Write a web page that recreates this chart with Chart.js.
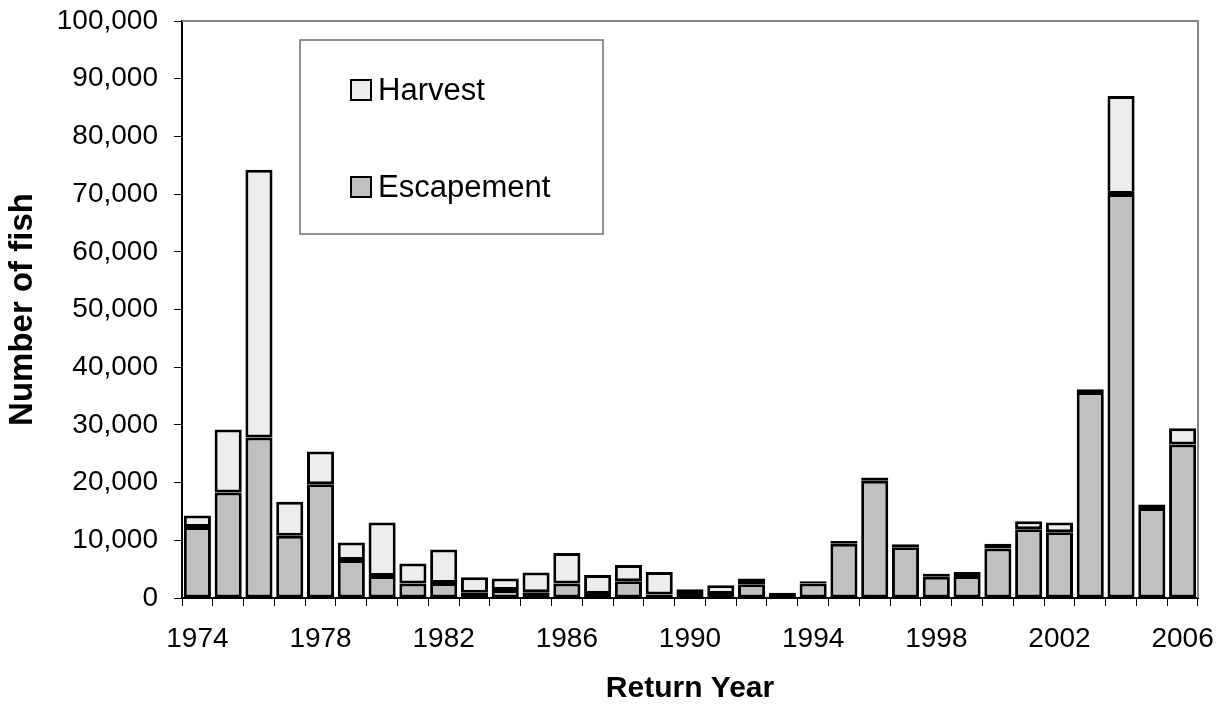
<!DOCTYPE html>
<html>
<head>
<meta charset="utf-8">
<title>Return Year - Number of fish</title>
<script src="https://cdn.jsdelivr.net/npm/chart.js@4.4.1/dist/chart.umd.min.js"></script>
<style>
    html, body { margin: 0; padding: 0; background: #ffffff; }
    #wrap { width: 1225px; height: 709px; position: relative; }
</style>
</head>
<body>
<div id="wrap"><canvas id="fishChart"></canvas></div>
<script>
// Return years (categories)
const years = ['1974', '1975', '1976', '1977', '1978', '1979', '1980', '1981', '1982', '1983',
    '1984', '1985', '1986', '1987', '1988', '1989', '1990', '1991', '1992', '1993',
    '1994', '1995', '1996', '1997', '1998', '1999', '2000', '2001', '2002', '2003',
    '2004', '2005', '2006'];

// Escapement (bottom of each stack)
const escapement = [12300, 18300, 27800, 10800, 19700, 6600, 3800, 2500, 2600, 900,
    1400, 1000, 2500, 700, 2900, 600, 500, 700, 2400, 500,
    2500, 9400, 20300, 8800, 3700, 3800, 8600, 11900, 11400, 35700,
    70000, 15600, 26600];

// Harvest (stacked on top)
const harvest = [2000, 10900, 46400, 5900, 5700, 3000, 9300, 3500, 5800, 2700,
    2000, 3400, 5300, 3300, 2800, 3900, 1000, 1500, 1000, 400,
    400, 500, 600, 500, 500, 700, 800, 1400, 1700, 500,
    17000, 600, 2800];

// Y axis range / step
const yMax = 100000;
const yStep = 10000;

const FONT = "'Liberation Sans', Arial, sans-serif";

const colors = {
    escapement: '#c0c0c0',
    harvest: '#ededed',
    border: '#000000',
    frame: '#868686'
};

// Gray top/right frame around the plot area
const framePlugin = {
    id: 'frame',
    beforeDatasetsDraw(chart) {
        const { ctx, chartArea: a } = chart;
        ctx.save();
        ctx.strokeStyle = colors.frame;
        ctx.lineWidth = 2;
        ctx.beginPath();
        ctx.moveTo(a.left, a.top);
        ctx.lineTo(a.right, a.top);
        ctx.lineTo(a.right, a.bottom);
        ctx.stroke();
        ctx.restore();
    }
};

// Boxed legend inside the plot, Harvest listed first
const boxLegend = {
    id: 'boxLegend',
    afterDatasetsDraw(chart) {
        const { ctx } = chart;
        const box = { x: 300, y: 40, w: 303, h: 194 };
        ctx.save();
        ctx.fillStyle = '#ffffff';
        ctx.fillRect(box.x, box.y, box.w, box.h);
        ctx.strokeStyle = '#6e6e6e';
        ctx.lineWidth = 1.5;
        ctx.strokeRect(box.x, box.y, box.w, box.h);

        const items = chart.data.datasets.slice().reverse();
        const rows = [90, 187];
        ctx.font = '31px ' + FONT;
        ctx.textBaseline = 'middle';
        items.forEach((ds, i) => {
            const cy = rows[i];
            ctx.fillStyle = ds.backgroundColor;
            ctx.fillRect(351, cy - 10, 20, 20);
            ctx.strokeStyle = '#000000';
            ctx.lineWidth = 2;
            ctx.strokeRect(351, cy - 10, 20, 20);
            ctx.fillStyle = '#000000';
            ctx.fillText(ds.label, 378, cy + 1);
        });
        ctx.restore();
    }
};

new Chart(document.getElementById('fishChart'), {
    type: 'bar',
    data: {
        labels: years,
        datasets: [
            {
                label: 'Escapement',
                data: escapement,
                backgroundColor: colors.escapement,
                borderColor: colors.border,
                borderWidth: 3,
                borderSkipped: false,
                barPercentage: 0.88,
                categoryPercentage: 1.0
            },
            {
                label: 'Harvest',
                data: harvest,
                backgroundColor: colors.harvest,
                borderColor: colors.border,
                borderWidth: 3,
                borderSkipped: false,
                barPercentage: 0.88,
                categoryPercentage: 1.0
            }
        ]
    },
    options: {
        responsive: true,
        maintainAspectRatio: false,
        animation: false,
        layout: {
            padding: { left: 0, right: 27, top: 21, bottom: 0 }
        },
        plugins: {
            legend: { display: false },
            tooltip: { enabled: false }
        },
        scales: {
            x: {
                stacked: true,
                grid: {
                    offset: true,
                    drawOnChartArea: false,
                    drawTicks: true,
                    tickLength: 8,
                    color: '#000000',
                    lineWidth: 1
                },
                border: { color: '#000000', width: 2 },
                ticks: {
                    autoSkip: false,
                    maxRotation: 0,
                    padding: 16,
                    color: '#000000',
                    font: { family: FONT, size: 28 },
                    callback: (val, i) => (i % 4 === 0 ? years[i] : '')
                },
                title: {
                    display: true,
                    text: 'Return Year',
                    color: '#000000',
                    font: { family: FONT, size: 30, weight: 'bold' },
                    padding: { top: 0, bottom: 2 }
                },
                afterFit(scale) {
                    scale.height = 111;
                    scale.paddingLeft = 0;
                    scale.paddingRight = 0;
                }
            },
            y: {
                stacked: true,
                min: 0,
                max: yMax,
                grid: {
                    drawOnChartArea: false,
                    drawTicks: true,
                    tickLength: 8,
                    color: '#000000'
                },
                border: { color: '#000000', width: 2 },
                ticks: {
                    stepSize: yStep,
                    padding: 16,
                    color: '#000000',
                    font: { family: FONT, size: 28 },
                    callback: (v) => v.toLocaleString('en-US')
                },
                title: {
                    display: true,
                    text: 'Number of fish',
                    color: '#000000',
                    font: { family: FONT, size: 33, weight: 'bold' },
                    padding: { top: 3, bottom: 0 }
                },
                afterFit(scale) {
                    scale.width = 182;
                    scale.paddingTop = 0;
                    scale.paddingBottom = 0;
                }
            }
        }
    },
    plugins: [framePlugin, boxLegend]
});
</script>
</body>
</html>
